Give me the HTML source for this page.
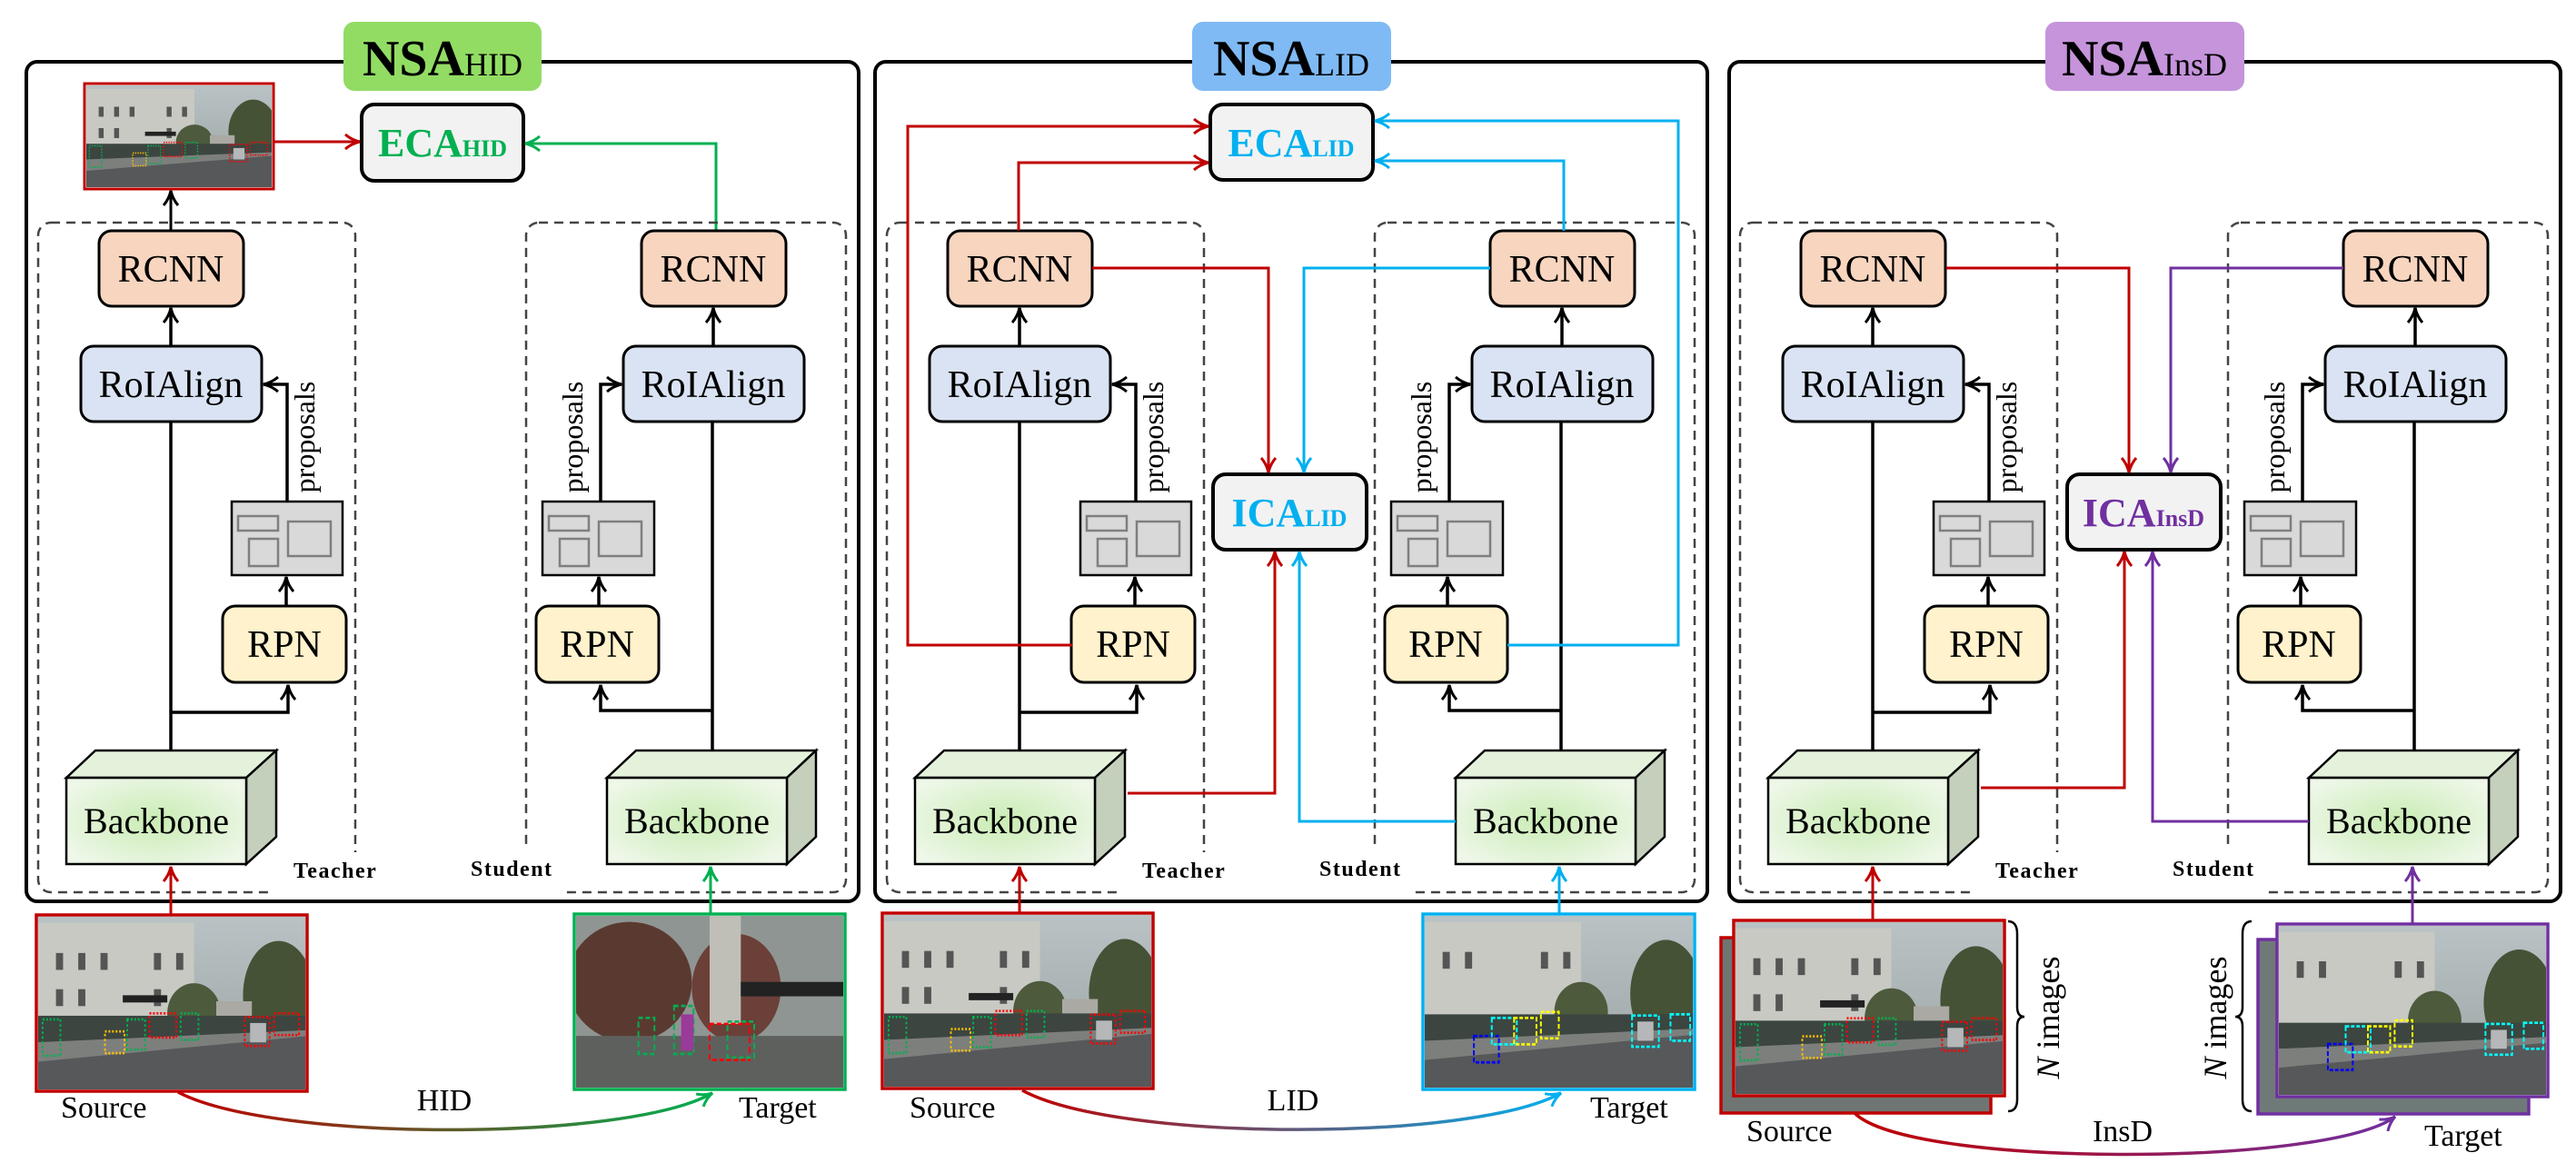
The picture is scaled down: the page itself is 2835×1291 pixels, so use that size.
<!DOCTYPE html>
<html><head><meta charset="utf-8"><style>
html,body{margin:0;padding:0;background:#fff}
svg{display:block}
text{font-family:"Liberation Serif",serif}
</style></head><body>
<svg width="2835" height="1291" viewBox="0 0 2835 1291" xmlns="http://www.w3.org/2000/svg">
<defs>
<marker id="ak" viewBox="0 0 20 18" markerWidth="20" markerHeight="18" refX="18" refY="9" orient="auto" markerUnits="userSpaceOnUse"><path d="M2,1 Q9,7 18,9 Q9,11 2,17" fill="none" stroke="#000" stroke-width="3"/></marker>
<marker id="ar" viewBox="0 0 20 18" markerWidth="20" markerHeight="18" refX="18" refY="9" orient="auto" markerUnits="userSpaceOnUse"><path d="M2,1 Q9,7 18,9 Q9,11 2,17" fill="none" stroke="#c00000" stroke-width="3"/></marker>
<marker id="ag" viewBox="0 0 20 18" markerWidth="20" markerHeight="18" refX="18" refY="9" orient="auto" markerUnits="userSpaceOnUse"><path d="M2,1 Q9,7 18,9 Q9,11 2,17" fill="none" stroke="#00b050" stroke-width="3"/></marker>
<marker id="ab" viewBox="0 0 20 18" markerWidth="20" markerHeight="18" refX="18" refY="9" orient="auto" markerUnits="userSpaceOnUse"><path d="M2,1 Q9,7 18,9 Q9,11 2,17" fill="none" stroke="#00b0f0" stroke-width="3"/></marker>
<marker id="ap" viewBox="0 0 20 18" markerWidth="20" markerHeight="18" refX="18" refY="9" orient="auto" markerUnits="userSpaceOnUse"><path d="M2,1 Q9,7 18,9 Q9,11 2,17" fill="none" stroke="#7030a0" stroke-width="3"/></marker>
<radialGradient id="bbg" cx="0.5" cy="0.5" r="0.6"><stop offset="0" stop-color="#c9ecb4"/><stop offset="1" stop-color="#eef7e8"/></radialGradient>
<linearGradient id="g1" gradientUnits="userSpaceOnUse" x1="196" y1="0" x2="784" y2="0"><stop offset="0" stop-color="#c00000"/><stop offset="1" stop-color="#00b050"/></linearGradient>
<linearGradient id="g2" gradientUnits="userSpaceOnUse" x1="1125" y1="0" x2="1718" y2="0"><stop offset="0" stop-color="#c00000"/><stop offset="1" stop-color="#00b0f0"/></linearGradient>
<linearGradient id="g3" gradientUnits="userSpaceOnUse" x1="2041" y1="0" x2="2636" y2="0"><stop offset="0" stop-color="#c00000"/><stop offset="1" stop-color="#7030a0"/></linearGradient>
<linearGradient id="sky" x1="0" y1="0" x2="0" y2="1"><stop offset="0" stop-color="#b9c2c4"/><stop offset="1" stop-color="#9aa3a3"/></linearGradient>
<symbol id="street" viewBox="0 0 300 143" preserveAspectRatio="none">
<rect width="300" height="143" fill="url(#sky)"/>
<polygon points="0,5 175,5 175,100 0,105" fill="#c8c9c3"/>
<rect x="20" y="30" width="8" height="14" fill="#555"/><rect x="45" y="30" width="8" height="14" fill="#555"/><rect x="70" y="30" width="8" height="14" fill="#555"/><rect x="130" y="30" width="8" height="14" fill="#555"/><rect x="155" y="30" width="8" height="14" fill="#555"/>
<rect x="20" y="60" width="8" height="14" fill="#555"/><rect x="45" y="60" width="8" height="14" fill="#555"/><rect x="130" y="60" width="8" height="14" fill="#555"/>
<ellipse cx="270" cy="65" rx="40" ry="45" fill="#465236"/>
<ellipse cx="175" cy="80" rx="30" ry="25" fill="#4d5a3c"/>
<rect x="200" y="70" width="40" height="30" fill="#aaa9a4"/>
<rect x="0" y="82" width="300" height="22" fill="#3c4540"/>
<rect x="95" y="65" width="50" height="6" fill="#222"/>
<polygon points="0,118 300,98 300,143 0,143" fill="#56585a"/>
<polygon points="0,104 300,94 300,99 0,120" fill="#7d7f7c"/>
<rect x="5" y="85" width="20" height="30" fill="none" stroke="#00b050" stroke-width="2" stroke-dasharray="2,2"/>
<rect x="75" y="95" width="22" height="18" fill="none" stroke="#ffc000" stroke-width="2" stroke-dasharray="2,2"/>
<rect x="100" y="85" width="20" height="25" fill="none" stroke="#00b050" stroke-width="2" stroke-dasharray="2,2"/>
<rect x="125" y="80" width="30" height="20" fill="none" stroke="#ff0000" stroke-width="2" stroke-dasharray="2,2"/>
<rect x="160" y="80" width="20" height="22" fill="none" stroke="#00b050" stroke-width="2" stroke-dasharray="2,2"/>
<rect x="232" y="83" width="28" height="24" fill="none" stroke="#ff0000" stroke-width="2" stroke-dasharray="2,2"/>
<rect x="265" y="80" width="28" height="18" fill="none" stroke="#ff0000" stroke-width="2" stroke-dasharray="2,2"/>
<rect x="238" y="88" width="18" height="16" fill="#b5b7b8"/>
</symbol>
<symbol id="street2" viewBox="0 0 300 143" preserveAspectRatio="none">
<rect width="300" height="143" fill="url(#sky)"/>
<polygon points="0,5 175,5 175,100 0,105" fill="#c8c9c3"/>
<rect x="20" y="30" width="8" height="14" fill="#555"/><rect x="45" y="30" width="8" height="14" fill="#555"/><rect x="130" y="30" width="8" height="14" fill="#555"/><rect x="155" y="30" width="8" height="14" fill="#555"/>
<ellipse cx="270" cy="65" rx="40" ry="45" fill="#465236"/>
<ellipse cx="175" cy="80" rx="30" ry="25" fill="#4d5a3c"/>
<rect x="0" y="82" width="300" height="22" fill="#3c4540"/>
<polygon points="0,118 300,98 300,143 0,143" fill="#56585a"/>
<polygon points="0,104 300,94 300,99 0,120" fill="#7d7f7c"/>
<rect x="55" y="100" width="28" height="22" fill="none" stroke="#0000ff" stroke-width="2" stroke-dasharray="4,2"/>
<rect x="75" y="85" width="28" height="22" fill="none" stroke="#00ffff" stroke-width="2" stroke-dasharray="4,2"/>
<rect x="100" y="85" width="25" height="22" fill="none" stroke="#ffff00" stroke-width="2" stroke-dasharray="4,2"/>
<rect x="130" y="80" width="20" height="22" fill="none" stroke="#ffff00" stroke-width="2" stroke-dasharray="4,2"/>
<rect x="232" y="83" width="30" height="26" fill="none" stroke="#00ffff" stroke-width="2" stroke-dasharray="4,2"/>
<rect x="275" y="82" width="22" height="22" fill="none" stroke="#00ffff" stroke-width="2" stroke-dasharray="4,2"/>
<rect x="238" y="88" width="18" height="16" fill="#b5b7b8"/>
</symbol>
<symbol id="street3" viewBox="0 0 300 143" preserveAspectRatio="none">
<rect width="300" height="143" fill="#8f9593"/>
<ellipse cx="60" cy="55" rx="70" ry="50" fill="#5a3a30"/>
<ellipse cx="180" cy="60" rx="50" ry="45" fill="#6b4038"/>
<rect x="150" y="0" width="35" height="90" fill="#bfbfb8"/>
<rect x="185" y="55" width="115" height="12" fill="#222"/>
<rect x="0" y="100" width="300" height="43" fill="#5e605e"/>
<rect x="70" y="85" width="18" height="30" fill="none" stroke="#00b050" stroke-width="2" stroke-dasharray="5,3"/>
<rect x="110" y="75" width="22" height="40" fill="none" stroke="#00b050" stroke-width="2" stroke-dasharray="5,3"/>
<rect x="118" y="82" width="14" height="30" fill="#9a3a9a"/>
<rect x="150" y="90" width="45" height="30" fill="none" stroke="#ff0000" stroke-width="2" stroke-dasharray="5,3"/>
<rect x="170" y="88" width="30" height="30" fill="none" stroke="#00b050" stroke-width="2" stroke-dasharray="5,3"/>
</symbol>
</defs>

<!-- ================= PANEL 1 ================= -->
<rect x="29" y="68" width="916" height="924" rx="12" fill="none" stroke="#000" stroke-width="4"/>
<rect x="378" y="24" width="218" height="76" rx="12" fill="#92dc64"/>
<text x="487" y="83" text-anchor="middle"><tspan font-size="56" font-weight="bold">NSA</tspan><tspan font-size="36">HID</tspan></text>
<rect x="398" y="115" width="178" height="84" rx="14" fill="#f2f2f2" stroke="#000" stroke-width="4"/>
<text x="487" y="172" text-anchor="middle" fill="#00b050" font-weight="bold"><tspan font-size="44">ECA</tspan><tspan font-size="26">HID</tspan></text>
<rect x="93" y="92" width="208" height="116" fill="none" stroke="#c00000" stroke-width="3"/>
<use href="#street" x="95" y="94" width="204" height="112"/>
<line x1="301" y1="156" x2="396" y2="156" stroke="#c00000" stroke-width="3" marker-end="url(#ar)"/>
<polyline points="788,254 788,158 578,158" fill="none" stroke="#00b050" stroke-width="3" marker-end="url(#ag)"/>
<line x1="188" y1="254" x2="188" y2="210" stroke="#000" stroke-width="3" marker-end="url(#ak)"/>

<g id="t1">
<rect x="42" y="245" width="349" height="737" rx="14" fill="none" stroke="#444" stroke-width="2.5" stroke-dasharray="10,7"/>
<rect x="579" y="245" width="352" height="737" rx="14" fill="none" stroke="#444" stroke-width="2.5" stroke-dasharray="10,7"/>
<rect x="300" y="938" width="130" height="49" fill="#fff"/>
<rect x="505" y="935" width="115" height="49" fill="#fff"/>
<text x="323" y="966" font-size="24" font-weight="bold" letter-spacing="1.5">Teacher</text>
<text x="518" y="964" font-size="24" font-weight="bold" letter-spacing="1.5">Student</text>
<!-- teacher -->
<line x1="188" y1="826" x2="188" y2="463" stroke="#000" stroke-width="3.5"/>
<line x1="188" y1="381" x2="188" y2="339" stroke="#000" stroke-width="3.5" marker-end="url(#ak)"/>
<rect x="109" y="254" width="159" height="83" rx="14" fill="#f8d5bf" stroke="#000" stroke-width="3"/>
<text x="188" y="310" font-size="42" text-anchor="middle">RCNN</text>
<rect x="89" y="381" width="199" height="83" rx="14" fill="#dae3f3" stroke="#000" stroke-width="3"/>
<text x="188" y="437" font-size="42" text-anchor="middle">RoIAlign</text>
<polyline points="188,784 317,784 317,754" fill="none" stroke="#000" stroke-width="3.5" marker-end="url(#ak)"/>
<rect x="245" y="667" width="136" height="84" rx="14" fill="#fff2cc" stroke="#000" stroke-width="3"/>
<text x="313" y="723" font-size="42" text-anchor="middle">RPN</text>
<line x1="315" y1="667" x2="315" y2="635" stroke="#000" stroke-width="3.5" marker-end="url(#ak)"/>
<rect x="255" y="552" width="122" height="81" fill="#d9d9d9" stroke="#000" stroke-width="2.5"/>
<rect x="262" y="568" width="44" height="16" fill="none" stroke="#7f7f7f" stroke-width="2.5"/>
<rect x="274" y="593" width="32" height="30" fill="none" stroke="#7f7f7f" stroke-width="2.5"/>
<rect x="317" y="574" width="47" height="38" fill="none" stroke="#7f7f7f" stroke-width="2.5"/>
<polyline points="316,552 316,423 290,423" fill="none" stroke="#000" stroke-width="3.5" marker-end="url(#ak)"/>
<text transform="translate(346,481) rotate(-90)" font-size="32" text-anchor="middle">proposals</text>
<polygon points="73,856 105,826 304,826 271,856" fill="#e4f2dc" stroke="#000" stroke-width="2.5"/>
<polygon points="271,856 304,826 304,921 271,951" fill="#c4d0bc" stroke="#000" stroke-width="2.5"/>
<rect x="73" y="856" width="198" height="95" fill="url(#bbg)" stroke="#000" stroke-width="2.5"/>
<text x="172" y="917" font-size="40" text-anchor="middle">Backbone</text>
<!-- student -->
<line x1="784" y1="826" x2="784" y2="463" stroke="#000" stroke-width="3.5"/>
<line x1="785" y1="381" x2="785" y2="339" stroke="#000" stroke-width="3.5" marker-end="url(#ak)"/>
<rect x="706" y="254" width="159" height="83" rx="14" fill="#f8d5bf" stroke="#000" stroke-width="3"/>
<text x="785" y="310" font-size="42" text-anchor="middle">RCNN</text>
<rect x="686" y="381" width="199" height="83" rx="14" fill="#dae3f3" stroke="#000" stroke-width="3"/>
<text x="785" y="437" font-size="42" text-anchor="middle">RoIAlign</text>
<polyline points="784,782 661,782 661,754" fill="none" stroke="#000" stroke-width="3.5" marker-end="url(#ak)"/>
<rect x="590" y="667" width="135" height="84" rx="14" fill="#fff2cc" stroke="#000" stroke-width="3"/>
<text x="657" y="723" font-size="42" text-anchor="middle">RPN</text>
<line x1="659" y1="667" x2="659" y2="635" stroke="#000" stroke-width="3.5" marker-end="url(#ak)"/>
<rect x="597" y="552" width="123" height="81" fill="#d9d9d9" stroke="#000" stroke-width="2.5"/>
<rect x="604" y="568" width="44" height="16" fill="none" stroke="#7f7f7f" stroke-width="2.5"/>
<rect x="616" y="593" width="32" height="30" fill="none" stroke="#7f7f7f" stroke-width="2.5"/>
<rect x="659" y="574" width="47" height="38" fill="none" stroke="#7f7f7f" stroke-width="2.5"/>
<polyline points="661,552 661,423 684,423" fill="none" stroke="#000" stroke-width="3.5" marker-end="url(#ak)"/>
<text transform="translate(641,481) rotate(-90)" font-size="32" text-anchor="middle">proposals</text>
<polygon points="668,856 700,826 898,826 866,856" fill="#e4f2dc" stroke="#000" stroke-width="2.5"/>
<polygon points="866,856 898,826 898,921 866,951" fill="#c4d0bc" stroke="#000" stroke-width="2.5"/>
<rect x="668" y="856" width="198" height="95" fill="url(#bbg)" stroke="#000" stroke-width="2.5"/>
<text x="767" y="917" font-size="40" text-anchor="middle">Backbone</text>
</g>
<!-- bottom panel 1 -->
<rect x="40" y="1007" width="298" height="194" fill="none" stroke="#c00000" stroke-width="3.5"/>
<use href="#street" x="42" y="1009" width="294" height="190"/>
<rect x="632" y="1006" width="298" height="193" fill="none" stroke="#00b050" stroke-width="3.5"/>
<use href="#street3" x="634" y="1008" width="294" height="189"/>
<line x1="188" y1="1007" x2="188" y2="954" stroke="#c00000" stroke-width="3" marker-end="url(#ar)"/>
<line x1="782" y1="1006" x2="782" y2="954" stroke="#00b050" stroke-width="3" marker-end="url(#ag)"/>
<text x="67" y="1230" font-size="34">Source</text>
<text x="489" y="1222" font-size="34" text-anchor="middle">HID</text>
<text x="813" y="1230" font-size="34">Target</text>
<path d="M196,1202 C300,1257 690,1257 784,1203" fill="none" stroke="url(#g1)" stroke-width="3.5" marker-end="url(#ag)"/>

<!-- ================= PANEL 2 ================= -->
<rect x="963" y="68" width="916" height="924" rx="12" fill="none" stroke="#000" stroke-width="4"/>
<rect x="1312" y="24" width="219" height="76" rx="12" fill="#7fbaf5"/>
<text x="1421" y="83" text-anchor="middle"><tspan font-size="56" font-weight="bold">NSA</tspan><tspan font-size="36">LID</tspan></text>
<use href="#t1" x="934" y="0"/>
<rect x="1332" y="115" width="179" height="83" rx="14" fill="#f2f2f2" stroke="#000" stroke-width="4"/>
<text x="1421" y="172" text-anchor="middle" fill="#00b0f0" font-weight="bold"><tspan font-size="44">ECA</tspan><tspan font-size="26">LID</tspan></text>
<rect x="1335" y="522" width="169" height="83" rx="14" fill="#f2f2f2" stroke="#000" stroke-width="4"/>
<text x="1419" y="579" text-anchor="middle" fill="#00b0f0" font-weight="bold"><tspan font-size="44">ICA</tspan><tspan font-size="26">LID</tspan></text>
<polyline points="1180,710 999,710 999,139 1330,139" fill="none" stroke="#c00000" stroke-width="3" marker-end="url(#ar)"/>
<polyline points="1121,254 1121,179 1330,179" fill="none" stroke="#c00000" stroke-width="3" marker-end="url(#ar)"/>
<polyline points="1202,295 1396,295 1396,520" fill="none" stroke="#c00000" stroke-width="3" marker-end="url(#ar)"/>
<polyline points="1241,873 1403,873 1403,607" fill="none" stroke="#c00000" stroke-width="3" marker-end="url(#ar)"/>
<polyline points="1659,710 1847,710 1847,133 1513,133" fill="none" stroke="#00b0f0" stroke-width="3" marker-end="url(#ab)"/>
<polyline points="1721,254 1721,177 1513,177" fill="none" stroke="#00b0f0" stroke-width="3" marker-end="url(#ab)"/>
<polyline points="1640,295 1435,295 1435,520" fill="none" stroke="#00b0f0" stroke-width="3" marker-end="url(#ab)"/>
<polyline points="1602,904 1430,904 1430,607" fill="none" stroke="#00b0f0" stroke-width="3" marker-end="url(#ab)"/>
<rect x="971" y="1005" width="298" height="193" fill="none" stroke="#c00000" stroke-width="3.5"/>
<use href="#street" x="973" y="1007" width="294" height="189"/>
<rect x="1566" y="1006" width="299" height="193" fill="none" stroke="#00b0f0" stroke-width="3.5"/>
<use href="#street2" x="1568" y="1008" width="295" height="189"/>
<line x1="1122" y1="1005" x2="1122" y2="954" stroke="#c00000" stroke-width="3" marker-end="url(#ar)"/>
<line x1="1716" y1="1006" x2="1716" y2="954" stroke="#00b0f0" stroke-width="3" marker-end="url(#ab)"/>
<text x="1001" y="1230" font-size="34">Source</text>
<text x="1423" y="1222" font-size="34" text-anchor="middle">LID</text>
<text x="1750" y="1230" font-size="34">Target</text>
<path d="M1125,1200 C1230,1257 1620,1257 1718,1203" fill="none" stroke="url(#g2)" stroke-width="3.5" marker-end="url(#ab)"/>

<!-- ================= PANEL 3 ================= -->
<rect x="1903" y="68" width="915" height="924" rx="12" fill="none" stroke="#000" stroke-width="4"/>
<rect x="2251" y="24" width="219" height="76" rx="12" fill="#c594db"/>
<text x="2360" y="83" text-anchor="middle"><tspan font-size="56" font-weight="bold">NSA</tspan><tspan font-size="36">InsD</tspan></text>
<use href="#t1" x="1873" y="0"/>
<rect x="2275" y="522" width="169" height="83" rx="14" fill="#f2f2f2" stroke="#000" stroke-width="4"/>
<text x="2359" y="579" text-anchor="middle" fill="#7030a0" font-weight="bold"><tspan font-size="44">ICA</tspan><tspan font-size="26">InsD</tspan></text>
<polyline points="2142,295 2343,295 2343,520" fill="none" stroke="#c00000" stroke-width="3" marker-end="url(#ar)"/>
<polyline points="2180,867 2338,867 2338,607" fill="none" stroke="#c00000" stroke-width="3" marker-end="url(#ar)"/>
<polyline points="2579,295 2389,295 2389,520" fill="none" stroke="#7030a0" stroke-width="3" marker-end="url(#ap)"/>
<polyline points="2541,904 2369,904 2369,607" fill="none" stroke="#7030a0" stroke-width="3" marker-end="url(#ap)"/>
<rect x="1894" y="1032" width="297" height="193" fill="#6f7572" stroke="#c00000" stroke-width="3.5"/>
<rect x="1908" y="1013" width="298" height="193" fill="#fff" stroke="#c00000" stroke-width="3.5"/>
<use href="#street" x="1910" y="1015" width="294" height="189"/>
<rect x="2485" y="1034" width="298" height="192" fill="#6f7a78" stroke="#7030a0" stroke-width="3.5"/>
<rect x="2506" y="1017" width="298" height="190" fill="#fff" stroke="#7030a0" stroke-width="3.5"/>
<use href="#street2" x="2508" y="1019" width="294" height="186"/>
<line x1="2061" y1="1013" x2="2061" y2="954" stroke="#c00000" stroke-width="3" marker-end="url(#ar)"/>
<line x1="2655" y1="1017" x2="2655" y2="954" stroke="#7030a0" stroke-width="3" marker-end="url(#ap)"/>
<path d="M2210,1014 Q2220,1014 2220,1028 L2220,1108 Q2220,1119 2228,1119 Q2220,1119 2220,1130 L2220,1210 Q2220,1223 2210,1223" fill="none" stroke="#000" stroke-width="2.5"/>
<path d="M2478,1014 Q2468,1014 2468,1028 L2468,1108 Q2468,1119 2460,1119 Q2468,1119 2468,1130 L2468,1210 Q2468,1223 2478,1223" fill="none" stroke="#000" stroke-width="2.5"/>
<text transform="translate(2266,1120) rotate(-90)" font-size="36" text-anchor="middle"><tspan font-style="italic">N</tspan> images</text>
<text transform="translate(2450,1120) rotate(-90)" font-size="36" text-anchor="middle"><tspan font-style="italic">N</tspan> images</text>
<text x="1922" y="1256" font-size="34">Source</text>
<text x="2336" y="1256" font-size="34" text-anchor="middle">InsD</text>
<text x="2668" y="1261" font-size="34">Target</text>
<path d="M2041,1225 C2100,1285 2560,1285 2636,1229" fill="none" stroke="url(#g3)" stroke-width="3.5" marker-end="url(#ap)"/>
</svg>
</body></html>
